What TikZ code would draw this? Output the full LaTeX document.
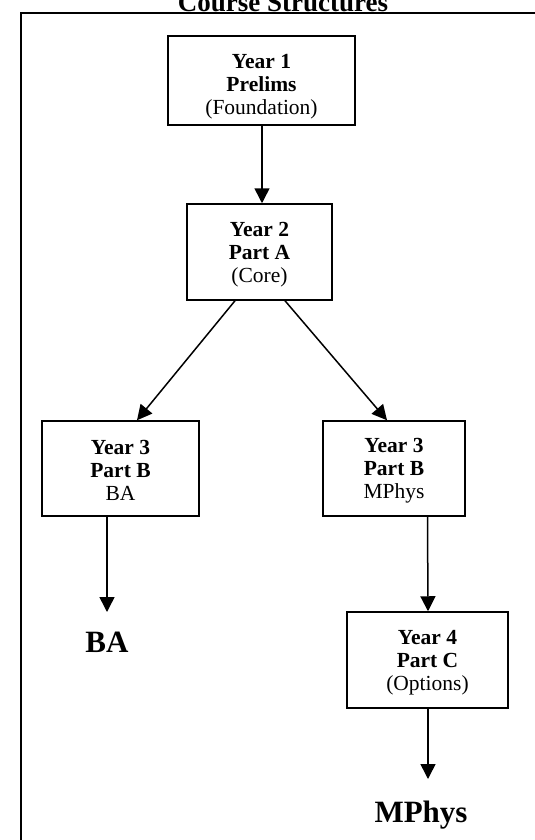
\documentclass[tikz,border=0pt]{standalone}
\usepackage{fontspec}
\setmainfont{Liberation Serif}
\usetikzlibrary{arrows.meta}
\newcommand{\dnstrut}[1]{\rule{0pt}{#1}}
\begin{document}
\begin{tikzpicture}[x=1pt,y=-1pt,
  box/.style={draw,line width=1.5pt,inner sep=0pt,align=center,
    font=\fontsize{21.5}{23}\selectfont},
  conn/.style={line width=1.5pt,-{Triangle[width=15pt,length=15pt]}},
  big/.style={font=\bfseries\fontsize{31}{36}\selectfont,inner sep=0pt,anchor=base}]
\useasboundingbox (0,0) rectangle (535,840);
% frame
\draw[line width=2pt] (21,850) -- (21,13) -- (545,13);
\node[anchor=base,inner sep=0pt,font=\bfseries\fontsize{27}{30}\selectfont] (title) at (283,12) {Course Structures};
% boxes
\node[box,minimum width=187pt,minimum height=89pt] (b1) at (261.5,80.5) {\dnstrut{26pt}\textbf{Year 1}\\\textbf{Prelims}\\(Foundation)};
\node[box,minimum width=145pt,minimum height=96pt] (b2) at (259.5,252) {\dnstrut{20pt}\textbf{Year 2}\\\textbf{Part A}\\(Core)};
\node[box,minimum width=157pt,minimum height=95pt] (b3l) at (120.5,468.5) {\dnstrut{19pt}\textbf{Year 3}\\\textbf{Part B}\\BA};
\node[box,minimum width=142pt,minimum height=95pt] (b3r) at (394,468.5) {\dnstrut{19pt}\textbf{Year 3}\\\textbf{Part B}\\MPhys};
\node[box,minimum width=161pt,minimum height=96pt] (b4) at (427.5,660) {\dnstrut{19pt}\textbf{Year 4}\\\textbf{Part C}\\(Options)};
\node[big] (ba) at (107,652) {BA};
\node[big] (mp) at (421,822) {MPhys};
\coordinate (baend) at (107,612);
\coordinate (mpend) at (428,779);
% connectors
\draw[conn] ([xshift=0.5pt]b1.south) -- ([xshift=2.5pt]b2.north);
\draw[conn] ([xshift=-24.5pt]b2.south) -- ([xshift=16.5pt]b3l.north);
\draw[conn] ([xshift=25.5pt]b2.south) -- ([xshift=-7pt]b3r.north);
\draw[conn] (b3l.south -| baend) -- (baend);
\draw[conn] (b3r.south -| b4.north) -- ([xshift=0.5pt]b4.north);
\draw[conn] ([xshift=0.5pt]b4.south) -- (mpend);
\end{tikzpicture}
\end{document}
